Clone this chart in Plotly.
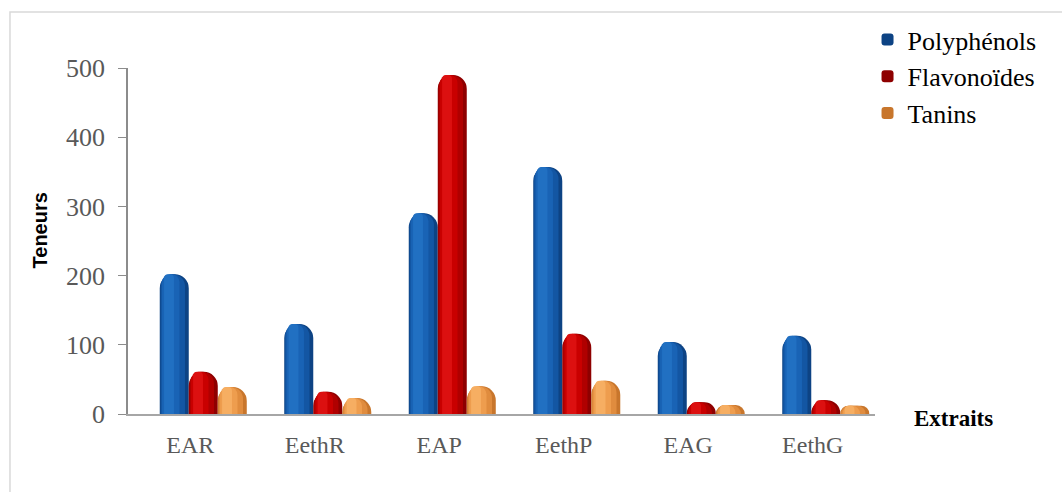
import plotly.graph_objects as go

# Extract types and measured contents
extraits = ["EAR", "EethR", "EAP", "EethP", "EAG", "EethG"]
polyphenols = [202, 130, 290, 357, 104, 113]
flavonoides = [61, 32, 490, 116, 17, 20]
tanins = [39, 23, 40, 48, 13, 12]

y_ticks = [0, 100, 200, 300, 400, 500]

SERIF = "Liberation Serif, Times New Roman, serif"

series = [
    # name, values, offset, shades from edge to highlight
    ("Polyphénols", polyphenols, -0.245, ["#0d4384", "#1356a3", "#1963b5", "#2170c2"]),
    ("Flavonoïdes", flavonoides, -0.012, ["#8e0000", "#b00000", "#c90000", "#dc1010"]),
    ("Tanins", tanins, 0.221, ["#c8762c", "#e08c3e", "#ee9d4e", "#f6ae62"]),
]
bar_w = 0.233
# (relative offset, relative width) of each shading layer inside one cylinder
layer_geom = [(0.0, 1.0), (0.03, 0.84), (0.08, 0.6), (0.15, 0.34)]

fig = go.Figure()
for name, vals, off, shades in series:
    for i, ((frac_off, frac_w), col) in enumerate(zip(layer_geom, shades)):
        fig.add_trace(go.Bar(
            x=extraits, y=vals, name=name,
            offset=off + frac_off * bar_w, width=frac_w * bar_w,
            marker=dict(color=col, line=dict(width=0), cornerradius="50%"),
            showlegend=(i == 0),
            hoverinfo="skip" if i else None,
        ))

fig.update_layout(
    width=1062, height=492,
    barmode="overlay",
    paper_bgcolor="white", plot_bgcolor="white",
    margin=dict(l=128, r=187, t=68, b=78),
    font=dict(family=SERIF, color="#595959"),
    xaxis=dict(
        showline=True, linecolor="#a6a6a6", linewidth=2,
        ticks="", tickfont=dict(family=SERIF, size=24, color="#595959"),
        ticklabelstandoff=8,
        showgrid=False,
    ),
    yaxis=dict(
        range=[0, 500], tickvals=y_ticks,
        showline=True, linecolor="#8c8c8c", linewidth=1.5,
        ticks="outside", ticklen=8, tickcolor="#8c8c8c",
        tickfont=dict(family=SERIF, size=26, color="#595959"),
        ticklabelstandoff=8,
        showgrid=False, zeroline=False,
    ),
    legend=dict(
        x=0.99, y=1.15, xanchor="left", yanchor="top",
        font=dict(size=26, color="black", family=SERIF),
        itemwidth=30, tracegroupgap=0, bgcolor="rgba(0,0,0,0)",
    ),
    annotations=[
        dict(text="<b>Teneurs</b>", textangle=-90, xref="paper", yref="paper",
             x=-0.118, y=0.53, xanchor="center", yanchor="middle", showarrow=False,
             font=dict(family="Liberation Sans, Arial, sans-serif", size=20, color="black")),
        dict(text="<b>Extraits</b>", xref="paper", yref="paper",
             x=1.105, y=-0.012, xanchor="center", yanchor="middle", showarrow=False,
             font=dict(family=SERIF, size=23, color="black")),
    ],
    shapes=[
        dict(type="rect", xref="paper", yref="paper",
             x0=-0.158, y0=-0.25, x1=1.3, y1=1.162,
             line=dict(color="#d9d9d9", width=1.5), layer="below"),
    ],
)

fig.write_html("out.html")
